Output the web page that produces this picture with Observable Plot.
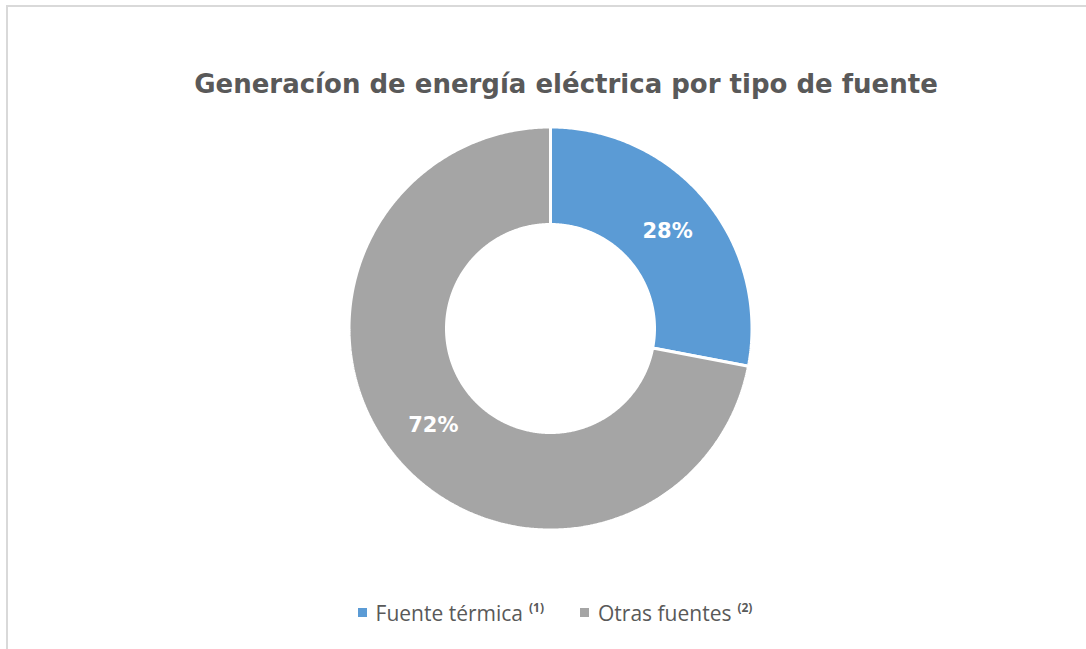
<!DOCTYPE html>
<html>
<head>
<meta charset="utf-8">
<script src="https://cdn.jsdelivr.net/npm/d3@7"></script>
<script src="https://cdn.jsdelivr.net/npm/@observablehq/plot@0.6"></script>
<style>
  body { margin: 0; background: #fff; width: 1086px; height: 649px; overflow: hidden; position: relative; }
  #frame { position: absolute; left: 6px; top: 5px; width: 1100px; height: 660px; border-top: 2px solid #d9d9d9; border-left: 2px solid #d9d9d9; pointer-events: none; }
  #title { height: 100px; box-sizing: border-box; padding-top: 68px; padding-left: 46px; text-align: center; font-family: "DejaVu Sans", sans-serif; font-weight: bold; font-size: 26px; line-height: 32px; color: #595959; white-space: nowrap; }
  #legend { box-sizing: border-box; padding-top: 35px; padding-left: 24px; text-align: center; font-family: "Open Sans", sans-serif; font-size: 21px; line-height: 28px; color: #595959; white-space: nowrap; }
  .item { display: inline-flex; align-items: center; margin: 0 18px; }
  .sw { width: 9px; height: 9px; display: inline-block; margin-right: 9px; }
  sup { font-size: 12px; font-weight: bold; vertical-align: 9px; line-height: 0; margin-left: 6px; }
</style>
</head>
<body>
<div id="frame"></div>
<div id="title"></div>
<div id="chart"></div>
<div id="legend"></div>
<script>
const titleText = "Generacíon de energía eléctrica por tipo de fuente";
const categories = ["Fuente térmica", "Otras fuentes"];
const notes = ["(1)", "(2)"];
const values = [28, 72];
const labels = ["28%", "72%"];
const colors = ["#5b9bd5", "#a5a5a5"];

document.getElementById("title").textContent = titleText;

const innerR = 0.52, outerR = 1.0075;
const total = d3.sum(values);
const pts = [];
const cents = [];
let acc = 0;
categories.forEach((c, i) => {
  const a0 = acc / total * 2 * Math.PI;
  acc += values[i];
  const a1 = acc / total * 2 * Math.PI;
  const n = Math.max(2, Math.ceil((a1 - a0) / (Math.PI / 360)));
  const ring = [];
  for (let k = 0; k <= n; k++) { const a = a0 + (a1 - a0) * k / n; ring.push([outerR * Math.sin(a), outerR * Math.cos(a)]); }
  for (let k = n; k >= 0; k--) { const a = a0 + (a1 - a0) * k / n; ring.push([innerR * Math.sin(a), innerR * Math.cos(a)]); }
  ring.push(ring[0]);
  ring.forEach(([x, y]) => pts.push({key: c, x, y}));
  const am = (a0 + a1) / 2, rm = 0.76;
  cents.push({key: c, label: labels[i], x: rm * Math.sin(am), y: rm * Math.cos(am)});
});

const chart = Plot.plot({
  width: 1086,
  height: 460,
  margin: 0,
  x: {domain: [-1, 1], range: [350, 750], axis: null},
  y: {domain: [-1, 1], range: [428, 28], axis: null},
  color: {domain: categories, range: colors},
  style: {background: "transparent", overflow: "visible"},
  marks: [
    Plot.line(pts, {x: "x", y: "y", z: "key", fill: "key", stroke: "white", strokeWidth: 3, strokeLinejoin: "miter", curve: "linear"}),
    Plot.text(cents, {x: "x", y: "y", text: "label", fill: "white", fontSize: 21, fontWeight: "bold", fontFamily: "DejaVu Sans, sans-serif"})
  ]
});
document.getElementById("chart").appendChild(chart);

const legend = document.getElementById("legend");
categories.forEach((c, i) => {
  const it = document.createElement("span");
  it.className = "item";
  it.innerHTML = `<span class="sw" style="background:${colors[i]}"></span><span>${c}<sup>${notes[i]}</sup></span>`;
  legend.appendChild(it);
});
</script>
</body>
</html>
